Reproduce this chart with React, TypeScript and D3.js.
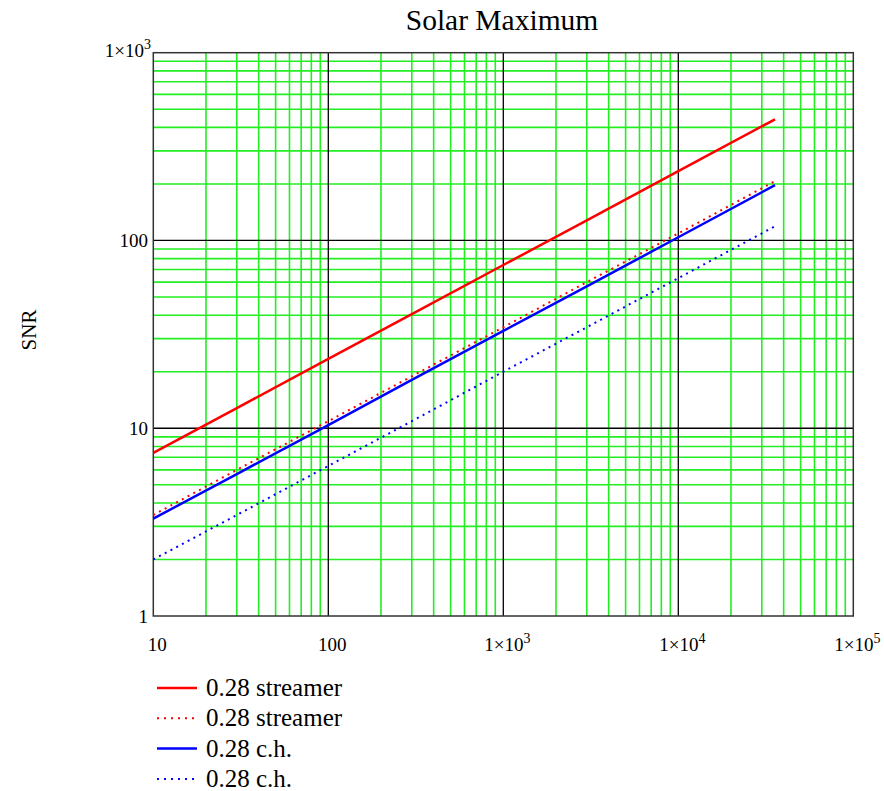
import React from "react";
import * as d3 from "d3";

const xPoints = [10, 30, 100, 300, 1000, 3000, 10000, 35700];
const redSolid = [7.4, 12.8, 23.4, 40.5, 74, 128, 234, 442];
const redDotted = [3.45, 6.0, 10.9, 18.9, 34.5, 60, 109, 207];
const blueSolid = [3.3, 5.7, 10.4, 18.1, 33, 57, 104, 197];
const blueDotted = [2.0, 3.45, 6.3, 10.9, 20, 34.5, 63, 119];

const xTicks = [10, 100, 1000, 10000, 100000];
const xTickLabels = [["10", ""], ["100", ""], ["1×10", "3"], ["1×10", "4"], ["1×10", "5"]];
const yTicks = [1, 10, 100, 1000];
const yTickLabels = [["1", ""], ["10", ""], ["100", ""], ["1×10", "3"]];

const seriesNames = ["0.28 streamer", "0.28 streamer", "0.28 c.h.", "0.28 c.h."];
const seriesColors = ["#ff0000", "#ff0000", "#0000ff", "#0000ff"];
const seriesDashed = [false, true, false, true];
const seriesValues = [redSolid, redDotted, blueSolid, blueDotted];

const W = 884, H = 791;
const L = 153.3, R = 853.3, T = 52.7, B = 616;
const FONT = "'Liberation Serif', 'Times New Roman', serif";

export default function App() {
  const x = d3.scaleLog().domain([10, 100000]).range([L, R]);
  const y = d3.scaleLog().domain([1, 1000]).range([B, T]);

  const minorX: number[] = [];
  for (let d = 10; d < 100000; d *= 10) for (let k = 2; k <= 9; k++) minorX.push(d * k);
  const minorY: number[] = [];
  for (let d = 1; d < 1000; d *= 10) for (let k = 2; k <= 9; k++) minorY.push(d * k);

  const line = d3
    .line<[number, number]>()
    .x((d) => x(d[0]))
    .y((d) => y(d[1]));

  return (
    <svg width={W} height={H} style={{ position: "absolute", left: 0, top: 0, background: "#fff" }} fontFamily={FONT}>
      <text x={502} y={30} textAnchor="middle" fontSize={29.5} fill="#000">Solar Maximum</text>
      {minorX.map((v, i) => (
        <line key={"mx" + i} x1={x(v)} x2={x(v)} y1={T} y2={B} stroke="#22ee22" strokeWidth={1.6} />
      ))}
      {minorY.map((v, i) => (
        <line key={"my" + i} x1={L} x2={R} y1={y(v)} y2={y(v)} stroke="#22ee22" strokeWidth={1.6} />
      ))}
      {xTicks.slice(1, -1).map((v, i) => (
        <line key={"Mx" + i} x1={x(v)} x2={x(v)} y1={T} y2={B} stroke="#000" strokeWidth={1.3} />
      ))}
      {yTicks.slice(1, -1).map((v, i) => (
        <line key={"My" + i} x1={L} x2={R} y1={y(v)} y2={y(v)} stroke="#000" strokeWidth={1.3} />
      ))}
      <rect x={L} y={T} width={R - L} height={B - T} fill="none" stroke="#333" strokeWidth={1.5} />
      {seriesValues.map((vals, i) => (
        <path
          key={"s" + i}
          d={line(xPoints.map((xv, j) => [xv, vals[j]] as [number, number])) || ""}
          fill="none"
          stroke={seriesColors[i]}
          strokeWidth={seriesDashed[i] ? 2 : 2.5}
          strokeDasharray={seriesDashed[i] ? "2,4.5" : undefined}
        />
      ))}
      {xTicks.map((v, i) => (
        <text key={"xt" + i} x={x(v) + 4} y={651} textAnchor="middle" fontSize={19} fill="#000">
          {xTickLabels[i][0]}
          {xTickLabels[i][1] && <tspan dy={-8} fontSize={14}>{xTickLabels[i][1]}</tspan>}
        </text>
      ))}
      {yTicks.map((v, i) => (
        <text key={"yt" + i} x={yTickLabels[i][1] ? 151 : 148} y={y(v) + (yTickLabels[i][1] ? 4 : 7)} textAnchor="end" fontSize={19} fill="#000">
          {yTickLabels[i][0]}
          {yTickLabels[i][1] && <tspan dy={-8} fontSize={14}>{yTickLabels[i][1]}</tspan>}
        </text>
      ))}
      <text transform="translate(36,330) rotate(-90)" textAnchor="middle" fontSize={21} fill="#000">SNR</text>
      {seriesNames.map((name, i) => {
        const yy = 688 + i * 30.3;
        return (
          <g key={"lg" + i}>
            <line x1={157} x2={197} y1={yy} y2={yy} stroke={seriesColors[i]} strokeWidth={seriesDashed[i] ? 2 : 2.5} strokeDasharray={seriesDashed[i] ? "2,5" : undefined} />
            <text x={206} y={yy + 8} fontSize={25} fill="#000">{name}</text>
          </g>
        );
      })}
    </svg>
  );
}
